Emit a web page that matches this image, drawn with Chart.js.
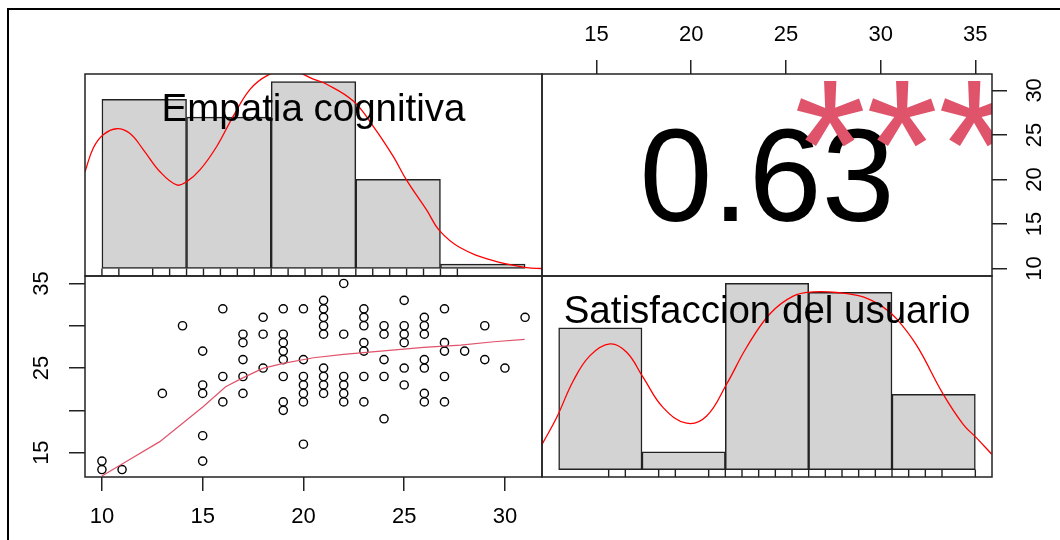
<!DOCTYPE html>
<html>
<head>
<meta charset="utf-8">
<script src="https://cdn.jsdelivr.net/npm/chart.js@4.4.1/dist/chart.umd.min.js"></script>
<style>
  html, body { margin: 0; padding: 0; background: #fff; }
  #wrap { position: relative; width: 1060px; height: 540px; overflow: hidden; background: #fff; }
  #frame { position: absolute; left: 7px; top: 8px; width: 1100px; height: 600px;
           border-left: 2px solid #000; border-top: 2px solid #000; }
  canvas { position: absolute; left: 0; top: 0; }
</style>
</head>
<body>
<div id="wrap">
  <div id="frame"></div>
  <canvas id="histEmp" width="1060" height="540"></canvas>
  <canvas id="corr" width="1060" height="540"></canvas>
  <canvas id="scatter" width="1060" height="540"></canvas>
  <canvas id="histSat" width="1060" height="540"></canvas>
</div>
<script>
// ---- data ----
const varNames = ['Empatia cognitiva', 'Satisfaccion del usuario'];

// distinct (empatia, satisfaccion) pairs
const empatia = [
  10, 10, 11, 13, 14,
  15, 15, 15, 15, 15,
  16, 16, 16,
  17, 17, 17, 17, 17,
  18, 18, 18,
  19, 19, 19, 19, 19, 19, 19, 19,
  20, 20, 20, 20, 20, 20, 20,
  21, 21, 21, 21, 21, 21, 21, 21, 21,
  22, 22, 22, 22, 22, 22,
  23, 23, 23, 23, 23, 23, 23,
  24, 24, 24, 24, 24,
  25, 25, 25, 25, 25, 25,
  26, 26, 26, 26, 26, 26, 26,
  27, 27, 27, 27, 27,
  28, 29, 29, 30, 31
];
const satisfaccion = [
  14, 13, 13, 22, 30,
  27, 23, 22, 17, 14,
  32, 24, 21,
  29, 28, 26, 24, 22,
  31, 29, 25,
  32, 29, 28, 27, 26, 24, 21, 20,
  32, 26, 24, 23, 22, 21, 16,
  33, 32, 31, 30, 29, 25, 24, 23, 22,
  35, 29, 24, 23, 22, 21,
  32, 31, 30, 28, 27, 24, 21,
  30, 29, 26, 24, 19,
  33, 30, 29, 28, 25, 23,
  31, 30, 29, 26, 25, 22, 21,
  32, 28, 27, 24, 21,
  27, 30, 26, 25, 31
];

// histogram breaks and bin counts
const histBreaks = [10, 15, 20, 25, 30, 35];
const empatiaCounts = [38, 34, 42, 20, 1];
const satisfaccionCounts = [32, 4, 42, 40, 17];

// kernel density curves
const empatiaDensX = [9.00, 9.49, 10.08, 10.87, 11.66, 12.45, 13.43, 14.42, 15.01, 15.79, 16.78, 17.76,
  18.75, 19.73, 20.99, 22.49, 23.28, 24.85, 26.03, 27.21, 28.00, 29.19, 29.93, 31.15, 33.12, 35.09, 36.00];
const empatiaDensY = [0.0322, 0.0401, 0.0445, 0.0465, 0.0449, 0.0395, 0.0322, 0.0278, 0.0289, 0.0328, 0.0406, 0.0507,
  0.0596, 0.0641, 0.0663, 0.0630, 0.0613, 0.0557, 0.0473, 0.0373, 0.0294, 0.0194, 0.0127, 0.0070, 0.0026, 0.0003, 0.0000];
const satisfDensX = [9.02, 9.88, 10.88, 11.88, 13.08, 14.08, 15.07, 16.27, 17.68, 18.88, 20.08, 21.28,
  22.68, 24.07, 25.27, 26.68, 28.27, 29.47, 30.28, 31.48, 33.07, 34.27, 35.07, 35.97];
const satisfDensY = [0.0086, 0.0174, 0.0297, 0.0381, 0.0420, 0.0392, 0.0308, 0.0207, 0.0155, 0.0179, 0.0286, 0.0409,
  0.0521, 0.0580, 0.0594, 0.0592, 0.0577, 0.0543, 0.0504, 0.0415, 0.0252, 0.0151, 0.0106, 0.0052];

// smoother through the scatter
const loessX = [10, 11.21, 12.87, 15.02, 16.14, 16.94, 17.98, 19.00, 20.50, 21.99, 23.98, 25.97, 27.80, 29.45, 30.98];
const loessY = [12.25, 13.94, 16.30, 20.43, 22.79, 23.78, 24.96, 25.55, 26.22, 26.62, 27.04, 27.44, 27.72, 28.11, 28.39];

// axis ticks and labels
const empatiaTicks = [10, 15, 20, 25, 30];
const satisfaccionTicks = [15, 20, 25, 30, 35];
const satisfaccionLeftLabels = [15, 25, 35];

// correlation
const corrLabel = '0.63';
const corrStars = '***';

// ---- drawing ----
const FONT = "'Liberation Sans', Arial, Helvetica, sans-serif";
const INK = '#222222';
const W = 1060, H = 540;
const COLS = [85, 542, 992];
const ROWS = [74, 276, 477];

function padded(lo, hi) { const d = (hi - lo) * 0.04; return [lo - d, hi + d]; }
function uniq(a) { return [...new Set(a)].sort((p, q) => p - q); }
function xy(xs, ys) { return xs.map((x, i) => ({ x, y: ys[i] })); }

// padding that puts the plot area of panel (c, r) in place; axis boxes fill the margins they own
function panelPadding(c, r, axes) {
  const p = { left: COLS[c], right: W - COLS[c + 1], top: ROWS[r], bottom: H - ROWS[r + 1] };
  Object.keys(axes || {}).forEach(k => { p[k] = 0; });
  return p;
}

function hiddenScale(range, ticks) {
  const s = { type: 'linear', display: false, min: range[0], max: range[1], bounds: 'data', offset: false };
  if (ticks) s.afterBuildTicks = sc => { sc.ticks = ticks.map(v => ({ value: v })); };
  return s;
}

function axisScale(pos, range, ticks, labels, tickLen, pad, boxSize) {
  const vertical = pos === 'left' || pos === 'right';
  return {
    type: 'linear', position: pos, min: range[0], max: range[1], bounds: 'data', offset: false,
    afterBuildTicks: sc => { sc.ticks = ticks.map(v => ({ value: v })); },
    afterFit: sc => { if (vertical) sc.width = boxSize; else sc.height = boxSize; },
    grid: { display: true, drawOnChartArea: false, drawTicks: true, tickLength: tickLen, color: INK, lineWidth: 1.5 },
    border: { display: false },
    ticks: {
      display: true, autoSkip: false, padding: pad, color: '#000',
      font: { family: FONT, size: 22 },
      minRotation: vertical ? 90 : 0, maxRotation: vertical ? 90 : 0,
      crossAlign: vertical ? 'center' : 'near',
      callback: v => labels.includes(v) ? String(v) : ''
    }
  };
}

function centeredText(ctx, txt, cx, cy, size, color) {
  ctx.font = size + 'px ' + FONT;
  ctx.fillStyle = color;
  ctx.textAlign = 'center';
  ctx.textBaseline = 'alphabetic';
  const m = ctx.measureText(txt);
  ctx.fillText(txt, cx, cy + (m.actualBoundingBoxAscent - m.actualBoundingBoxDescent) / 2);
}

function panelPlugin(opts) {
  return {
    id: 'panelDecor',
    afterDatasetsDraw(chart) {
      const { ctx, chartArea: a } = chart;
      const w = a.right - a.left, h = a.bottom - a.top;
      ctx.save();
      if (opts.rug) {
        const xs = chart.scales.x, y0 = chart.scales.y.getPixelForValue(0);
        ctx.strokeStyle = INK; ctx.lineWidth = 1.4;
        opts.rug.forEach(v => {
          const px = xs.getPixelForValue(v);
          ctx.beginPath(); ctx.moveTo(px, a.bottom); ctx.lineTo(px, y0); ctx.stroke();
        });
      }
      if (opts.label) {
        const size = 38.5;
        ctx.font = size + 'px ' + FONT;
        ctx.fillStyle = '#000'; ctx.textAlign = 'center'; ctx.textBaseline = 'alphabetic';
        ctx.fillText(opts.label, (a.left + a.right) / 2, a.top + h / 6 + 0.345 * size);
      }
      if (opts.corr) {
        ctx.save();
        ctx.beginPath(); ctx.rect(a.left, a.top, w, h); ctx.clip();
        centeredText(ctx, corrLabel, a.left + 0.5 * w, a.bottom - 0.5 * h, 131, '#000');
        centeredText(ctx, corrStars, a.left + 0.8 * w, a.bottom - 0.8 * h, 185, '#DF536B');
        ctx.restore();
      }
      ctx.strokeStyle = INK; ctx.lineWidth = 1.5;
      ctx.strokeRect(a.left, a.top, w, h);
      ctx.restore();
    }
  };
}

const common = {
  responsive: false, animation: false, events: [], devicePixelRatio: 1,
  plugins: { legend: { display: false }, tooltip: { enabled: false } }
};

function histChart(id, c, r, counts, densX, densY, rugVals, label) {
  const n = counts.reduce((s, v) => s + v, 0);
  const bars = counts.map((v, i) => ({
    x: (histBreaks[i] + histBreaks[i + 1]) / 2,
    y: v / (n * (histBreaks[i + 1] - histBreaks[i]))
  }));
  const maxD = Math.max(...bars.map(b => b.y));
  return new Chart(document.getElementById(id), {
    type: 'bar',
    data: {
      datasets: [
        { type: 'line', order: 0, data: xy(densX, densY), borderColor: '#FF0000', borderWidth: 1.3,
          pointRadius: 0, tension: 0.4, fill: false, clip: 0 },
        { type: 'bar', order: 1, data: bars, backgroundColor: '#D3D3D3', borderColor: INK, borderWidth: 1.5,
          borderSkipped: false, barPercentage: 1, categoryPercentage: 1 }
      ]
    },
    options: Object.assign({}, common, {
      layout: { padding: panelPadding(c, r), autoPadding: false },
      scales: {
        x: hiddenScale(padded(histBreaks[0], histBreaks[histBreaks.length - 1]), histBreaks),
        y: hiddenScale(padded(0, maxD))
      }
    }),
    plugins: [panelPlugin({ rug: rugVals, label })]
  });
}

// diagonal: histograms
histChart('histEmp', 0, 0, empatiaCounts, empatiaDensX, empatiaDensY, uniq(empatia), varNames[0]);
histChart('histSat', 1, 1, satisfaccionCounts, satisfDensX, satisfDensY, uniq(satisfaccion), varNames[1]);

const empRange = padded(Math.min(...empatia), Math.max(...empatia));
const satRange = padded(Math.min(...satisfaccion), Math.max(...satisfaccion));

// lower panel: scatter with smoother
new Chart(document.getElementById('scatter'), {
  type: 'scatter',
  data: {
    datasets: [
      { type: 'line', order: 0, data: xy(loessX, loessY), borderColor: '#DF536B', borderWidth: 1.2,
        pointRadius: 0, tension: 0, fill: false },
      { type: 'scatter', order: 1, data: xy(empatia, satisfaccion), pointStyle: 'circle', pointRadius: 4.1,
        borderWidth: 1.4, borderColor: '#000', backgroundColor: 'rgba(0,0,0,0)' }
    ]
  },
  options: Object.assign({}, common, {
    layout: { padding: panelPadding(0, 1, { left: 1, bottom: 1 }), autoPadding: false },
    scales: {
      x: axisScale('bottom', empRange, empatiaTicks, empatiaTicks, 14, 13, H - ROWS[2]),
      y: axisScale('left', satRange, satisfaccionTicks, satisfaccionLeftLabels, 16, 15, COLS[0])
    }
  }),
  plugins: [panelPlugin({})]
});

// upper panel: correlation
new Chart(document.getElementById('corr'), {
  type: 'scatter',
  data: { datasets: [{ data: [], pointRadius: 0 }] },
  options: Object.assign({}, common, {
    layout: { padding: panelPadding(1, 0, { top: 1, right: 1 }), autoPadding: false },
    scales: {
      x: axisScale('top', satRange, satisfaccionTicks, satisfaccionTicks, 14, 12, ROWS[0]),
      y: axisScale('right', empRange, empatiaTicks, empatiaTicks, 15, 16, W - COLS[2])
    }
  }),
  plugins: [panelPlugin({ corr: true })]
});
</script>
</body>
</html>
